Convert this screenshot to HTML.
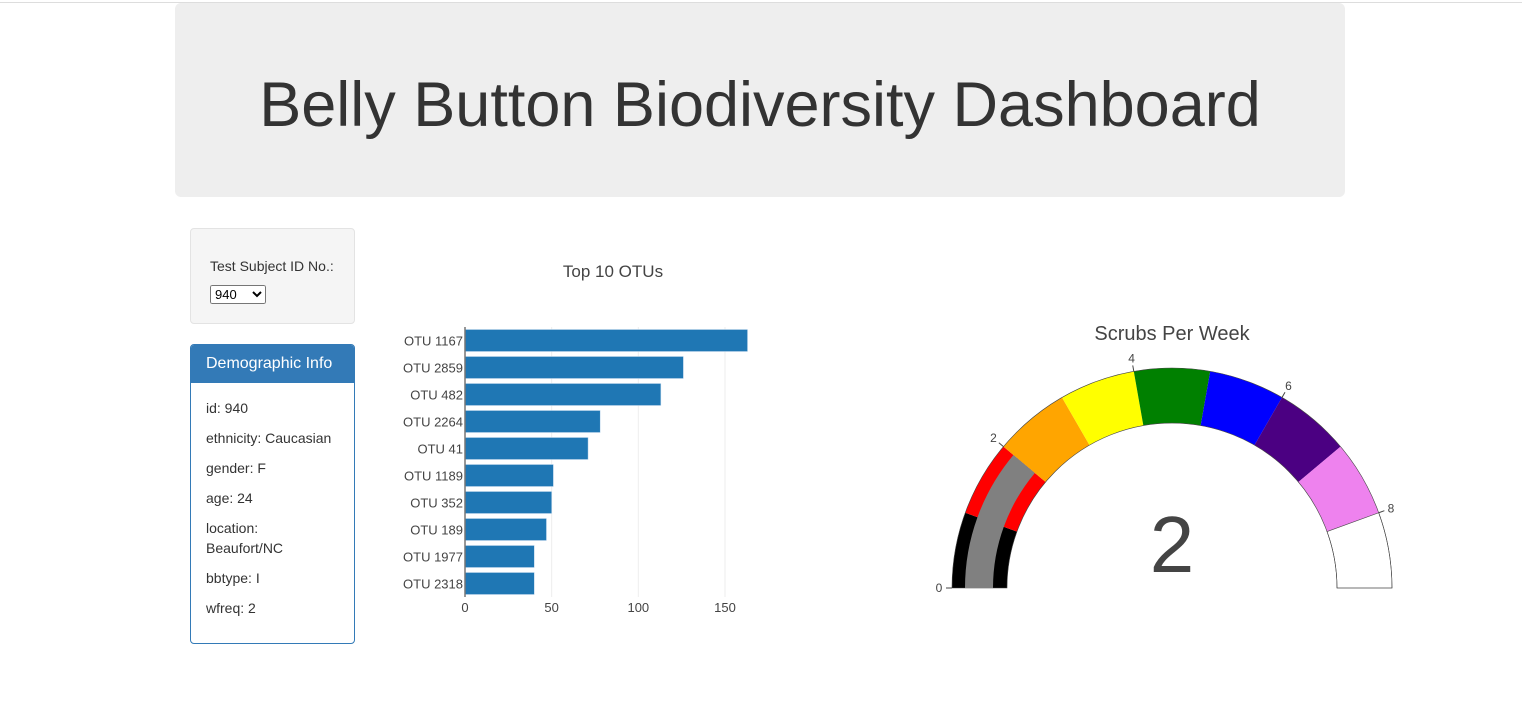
<!DOCTYPE html>
<html><head><meta charset="utf-8"><style>
body{margin:0;width:1522px;height:718px;background:#fff;font-family:"Liberation Sans",sans-serif;color:#333;position:relative;overflow:hidden}
#topline{position:absolute;left:0;top:2px;width:1522px;height:1px;background:#ddd}
#jumbo{position:absolute;left:175px;top:3px;width:1170px;height:194px;background:#eee;border-radius:6px;text-align:center}
#jumbo h1{margin:0;font-weight:normal;font-size:63px;line-height:204px;color:#333}
#well{position:absolute;left:190px;top:228px;width:163px;height:94px;background:#f5f5f5;border:1px solid #e3e3e3;border-radius:4px;font-size:14px}
#panel{position:absolute;left:190px;top:344px;width:163px;height:298px;border:1px solid #337ab7;border-radius:4px;overflow:hidden}
#ph{background:#337ab7;color:#fff;font-size:16px;height:38px;line-height:38px;padding-left:15px}
.info{font-size:14px;position:absolute;left:15px;width:110px;line-height:20px}
svg text{font-family:"Liberation Sans",sans-serif}
</style></head><body>
<div id="topline"></div>
<div id="jumbo"><h1>Belly Button Biodiversity Dashboard</h1></div>
<div id="well">
<div style="position:absolute;left:19px;top:29px">Test Subject ID No.:</div>
<select style="position:absolute;left:19px;top:56px;width:56px;height:19px;font-size:13px;padding:0"><option>940</option></select>
</div>
<div id="panel">
<div id="ph">Demographic Info</div>
<div class="info" style="top:53px">id: 940</div>
<div class="info" style="top:83px;width:140px">ethnicity: Caucasian</div>
<div class="info" style="top:113px">gender: F</div>
<div class="info" style="top:143px">age: 24</div>
<div class="info" style="top:173px">location: Beaufort/NC</div>
<div class="info" style="top:223px">bbtype: I</div>
<div class="info" style="top:253px">wfreq: 2</div>
</div>
<svg id="bar" width="420" height="380" style="position:absolute;left:380px;top:250px"></svg>
<svg id="gauge" width="560" height="360" style="position:absolute;left:900px;top:310px"></svg>
<script>
const otuLabels=["OTU 1167","OTU 2859","OTU 482","OTU 2264","OTU 41","OTU 1189","OTU 352","OTU 189","OTU 1977","OTU 2318"];
const otuValues=[163,126,113,78,71,51,50,47,40,40];
const xTicks=[0,50,100,150];
const gaugeValue=2;
const gaugeMax=9;
const gaugeColors=["black","red","orange","yellow","green","blue","indigo","violet","white"];
const gaugeTicks=[0,2,4,6,8];
const NS="http://www.w3.org/2000/svg";
function mk(p,t,a){const e=document.createElementNS(NS,t);for(const k in a)e.setAttribute(k,a[k]);p.appendChild(e);return e;}
const bar=document.getElementById('bar');
const x0=85, pxPer=260/150, top0=77, step=27;
const xs=v=>x0+v*pxPer;
let t=mk(bar,'text',{x:233,y:27,'text-anchor':'middle','font-size':17,fill:'#444'});t.textContent='Top 10 OTUs';


xTicks.forEach(v=>{
 if(v>0){const g=mk(bar,'line',{x1:xs(v),x2:xs(v),y1:top0,y2:top0+step*10,stroke:'#eee'});
 
 }
 const l=mk(bar,'text',{x:xs(v),y:top0+step*10+15,'text-anchor':'middle','font-size':13,fill:'#444'});l.textContent=v;
 
 
});
otuValues.forEach((v,i)=>{
 const yc=top0+step*i+step/2;
 const r=mk(bar,'rect',{x:x0,y:yc-11,width:xs(v)-x0,height:22,fill:'#1f77b4',stroke:'#c6dbef','stroke-width':0.5});
 
 
 const l=mk(bar,'text',{x:x0-2,y:yc+5,'text-anchor':'end','font-size':13,fill:'#444'});l.textContent=otuLabels[i];
 
 
});
const ax=mk(bar,'line',{x1:x0,x2:x0,y1:top0,y2:top0+step*10,stroke:'#777','stroke-width':1.5});


const g=document.getElementById('gauge');
const cx=272, cy=278, R=220, r0=165;
const ang=v=>Math.PI-(v/gaugeMax)*Math.PI;
const pt=(rad,v)=>[cx+rad*Math.cos(ang(v)), cy-rad*Math.sin(ang(v))];
function arc(a,b,ro,ri){const p1=pt(ro,a),p2=pt(ro,b),p3=pt(ri,b),p4=pt(ri,a);
 return `M${p1[0]},${p1[1]} A${ro},${ro} 0 0 1 ${p2[0]},${p2[1]} L${p3[0]},${p3[1]} A${ri},${ri} 0 0 0 ${p4[0]},${p4[1]} Z`;}
t=mk(g,'text',{x:cx,y:30,'text-anchor':'middle','font-size':20,fill:'#444'});t.textContent='Scrubs Per Week';


gaugeColors.forEach((c,i)=>{
 const s=mk(g,'path',{d:arc(i,i+1,R,r0),fill:c,stroke:c==='white'?'#444':'none','stroke-width':0.6});
 
 
});
const outline=mk(g,'path',{d:arc(0,gaugeMax,R,r0),fill:'none',stroke:'#444','stroke-width':0.6});


const gb=mk(g,'path',{d:arc(0,gaugeValue,R-13,r0+14),fill:'gray'});


gaugeTicks.forEach(v=>{
 const a=pt(R,v),b=pt(R+6,v),c=pt(R+13,v);
 const tk=mk(g,'line',{x1:a[0],y1:a[1],x2:b[0],y2:b[1],stroke:'#444'});
 
 
 const l=mk(g,'text',{x:c[0],y:c[1]+4,'text-anchor':'middle','font-size':12,fill:'#444'});l.textContent=v;
 
 
});
t=mk(g,'text',{x:cx,y:cy-16,'text-anchor':'middle','font-size':80,fill:'#444'});t.textContent=gaugeValue;


</script>
</body></html>
